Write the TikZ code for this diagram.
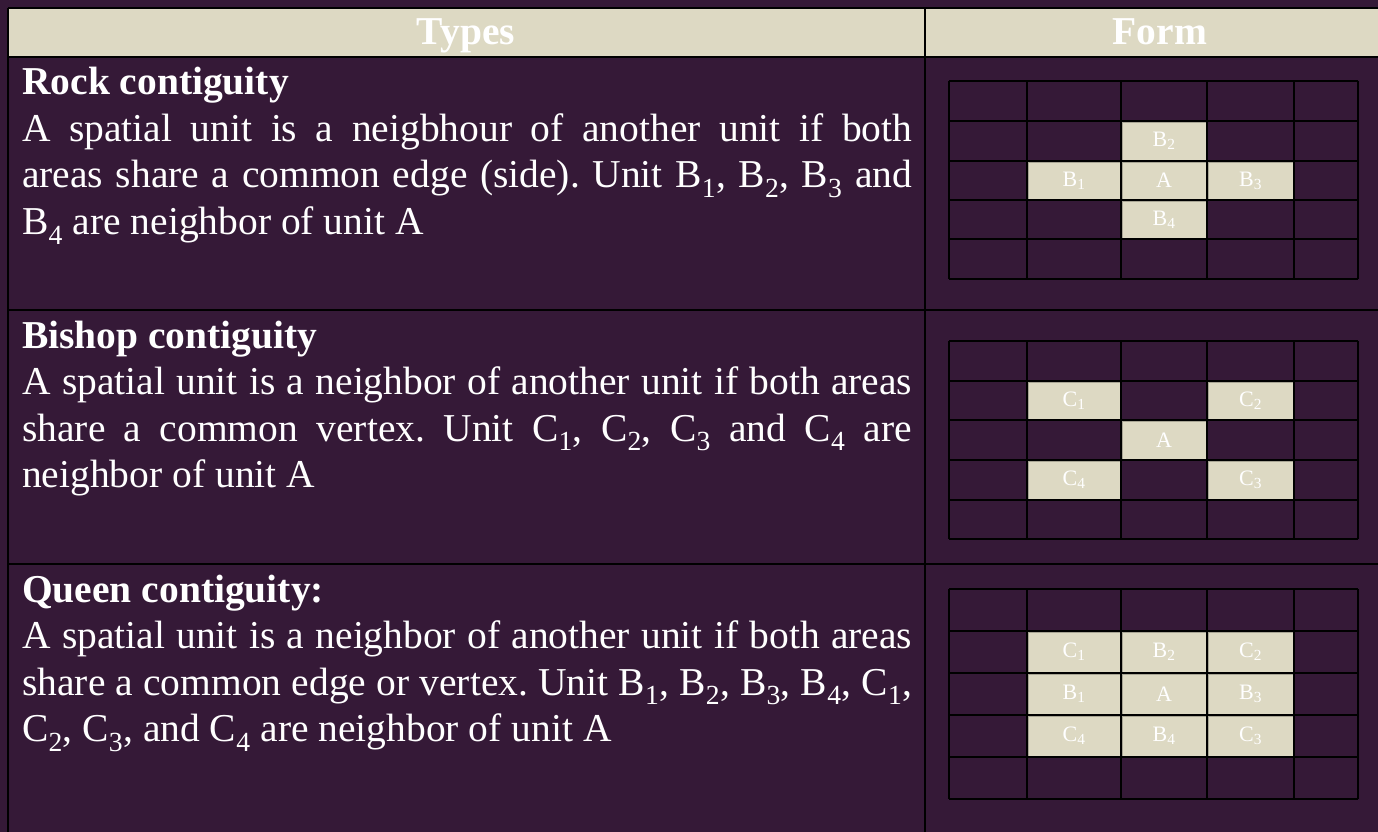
\documentclass[tikz,border=0pt]{standalone}
\usepackage{fontspec}
\setmainfont{Liberation Serif}
\frenchspacing
\definecolor{bgpurple}{HTML}{351937}
\definecolor{beige}{HTML}{DDD9C3}
\definecolor{celledge}{HTML}{A8A594}
\tikzset{
  tline/.style={draw=black, line width=2pt},
  gline/.style={draw=black, line width=1.8pt},
  cellbox/.style={fill=beige, draw=celledge, line width=0.8pt},
  lab/.style={text=white, font=\fontsize{22}{24}\selectfont, inner sep=0pt},
  hdr/.style={text=white, font=\fontsize{39.5}{46}\selectfont\bfseries, inner sep=0pt, anchor=base},
  txt/.style={text=white, font=\fontsize{39.5}{46.5}\selectfont, inner sep=0pt, anchor=base west}
}
\begin{document}
\begin{tikzpicture}[x=1pt,y=-1pt]
\useasboundingbox (0,0) rectangle (1378,832);
\clip (0,0) rectangle (1378,832);
\fill[bgpurple] (0,0) rectangle (1378,832);
% header
\fill[beige] (8,8) rectangle (1400,57);
\draw[tline] (8,8) -- (1400,8);
\draw[tline] (8,57) -- (1400,57);
\draw[tline] (8,310) -- (1400,310);
\draw[tline] (8,564) -- (1400,564);
\draw[tline] (8,8) -- (8,840);
\draw[tline] (925,8) -- (925,840);
\node[hdr] (types) at (466,45) {Types};
\node[hdr] (form) at (1160,45) {Form};
% texts
\node[txt] (rock) at (22,95) {\parbox[t]{890pt}{\textbf{Rock contiguity}\\
A spatial unit is a neigbhour of another unit if both\linebreak
areas share a common edge (side). Unit B\textsubscript{1}, B\textsubscript{2}, B\textsubscript{3} and\linebreak
B\textsubscript{4} are neighbor of unit A}};
\node[txt] (bishop) at (22,348) {\parbox[t]{890pt}{\textbf{Bishop contiguity}\\
A spatial unit is a neighbor of another unit if both areas\linebreak
share a common vertex. Unit C\textsubscript{1}, C\textsubscript{2}, C\textsubscript{3} and C\textsubscript{4} are\linebreak
neighbor of unit A}};
\node[txt] (queen) at (22,602) {\parbox[t]{890pt}{\textbf{Queen contiguity:}\\
A spatial unit is a neighbor of another unit if both areas\linebreak
share a common edge or vertex. Unit B\textsubscript{1}, B\textsubscript{2}, B\textsubscript{3}, B\textsubscript{4}, C\textsubscript{1},\linebreak
C\textsubscript{2}, C\textsubscript{3}, and C\textsubscript{4} are neighbor of unit A}};
% grid 1 (rook)
\draw[cellbox] (1122,122) rectangle (1206,160);
\draw[cellbox] (1028,162) rectangle (1120,199);
\draw[cellbox] (1122,162) rectangle (1206,199);
\draw[cellbox] (1208,162) rectangle (1293,199);
\draw[cellbox] (1122,201) rectangle (1206,238);
\foreach \x in {949,1027,1121,1207,1294,1358} \draw[gline] (\x,81) -- (\x,279);
\foreach \y in {81,121,161,200,239,279} \draw[gline] (949,\y) -- (1358,\y);
\node[lab] (ra) at (1164,180.5) {A};
\node[lab] (rb1) at (1074,180.5) {B\textsubscript{1}};
\node[lab] (rb2) at (1164,141) {B\textsubscript{2}};
\node[lab] (rb3) at (1250.5,180.5) {B\textsubscript{3}};
\node[lab] (rb4) at (1164,219.5) {B\textsubscript{4}};
% grid 2 (bishop)
\draw[cellbox] (1028,382) rectangle (1120,419);
\draw[cellbox] (1208,382) rectangle (1293,419);
\draw[cellbox] (1122,421) rectangle (1206,459);
\draw[cellbox] (1028,461) rectangle (1120,499);
\draw[cellbox] (1208,461) rectangle (1293,499);
\foreach \x in {949,1027,1121,1207,1294,1358} \draw[gline] (\x,341) -- (\x,539);
\foreach \y in {341,381,420,460,500,539} \draw[gline] (949,\y) -- (1358,\y);
\node[lab] (ba) at (1164,440) {A};
\node[lab] (bc1) at (1074,400.5) {C\textsubscript{1}};
\node[lab] (bc2) at (1250.5,400.5) {C\textsubscript{2}};
\node[lab] (bc3) at (1250.5,480) {C\textsubscript{3}};
\node[lab] (bc4) at (1074,480) {C\textsubscript{4}};
% grid 3 (queen)
\foreach \cx/\cy in {1028/632,1122/632,1208/632,1028/674,1122/674,1208/674,1028/716,1122/716,1208/716}{
  \pgfmathsetmacro{\wd}{\cx==1028 ? 92 : (\cx==1122 ? 84 : 85)}
  \draw[cellbox] (\cx,\cy) rectangle ++(\wd,40);
}
\foreach \x in {949,1027,1121,1207,1294,1358} \draw[gline] (\x,589) -- (\x,799);
\foreach \y in {589,631,673,715,757,799} \draw[gline] (949,\y) -- (1358,\y);
\node[lab] (qc1) at (1074,652) {C\textsubscript{1}};
\node[lab] (qb2) at (1164,652) {B\textsubscript{2}};
\node[lab] (qc2) at (1250.5,652) {C\textsubscript{2}};
\node[lab] (qb1) at (1074,694) {B\textsubscript{1}};
\node[lab] (qa) at (1164,694) {A};
\node[lab] (qb3) at (1250.5,694) {B\textsubscript{3}};
\node[lab] (qc4) at (1074,736) {C\textsubscript{4}};
\node[lab] (qb4) at (1164,736) {B\textsubscript{4}};
\node[lab] (qc3) at (1250.5,736) {C\textsubscript{3}};
\end{tikzpicture}
\end{document}
